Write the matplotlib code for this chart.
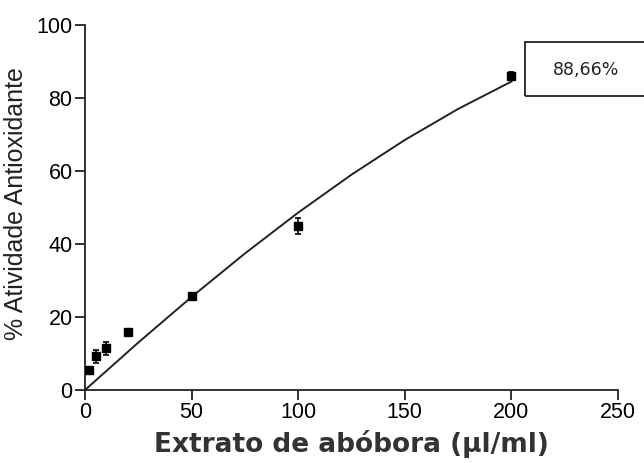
import numpy as np
import matplotlib.pyplot as plt
from matplotlib.patches import Rectangle

# Dados medidos (extrato de abóbora, µl/ml)
conc = [2, 5, 10, 20, 50, 100, 200]
atividade = [5.5, 9.2, 11.4, 16.0, 25.8, 45.0, 86.0]
erro = [0.6, 1.8, 1.8, 0.6, 0.8, 2.2, 1.0]

# Curva ajustada
curva_x = [0, 25, 50, 75, 100, 125, 150, 175, 200]
curva_y = [0, 13.0, 25.5, 37.4, 48.6, 59.0, 68.5, 77.0, 84.5]

xticks = [0, 50, 100, 150, 200, 250]
yticks = [0, 20, 40, 60, 80, 100]

fig = plt.figure(figsize=(6.44, 4.63), dpi=100)
ax = fig.add_axes([0.132, 0.1577, 0.8276, 0.7883])

ax.plot(curva_x, curva_y, color='#222222', lw=1.4, zorder=2)
ax.errorbar(conc, atividade, yerr=erro, fmt='s', color='black', ms=5.5,
            elinewidth=1.2, capsize=2.5, capthick=1.2, zorder=3)

ax.set_xlim(0, 250)
ax.set_ylim(0, 100)
ax.set_xticks(xticks)
ax.set_yticks(yticks)
for s in ['top', 'right']:
    ax.spines[s].set_visible(False)
for s in ['left', 'bottom']:
    ax.spines[s].set_linewidth(1.3)
    ax.spines[s].set_color('#222222')
ax.tick_params(direction='out', length=7, width=1.3, color='#222222',
               labelsize=15.5, pad=2)
for lab in ax.get_xticklabels() + ax.get_yticklabels():
    lab.set_family('Liberation Sans')

ax.set_ylabel('% Atividade Antioxidante', family='Liberation Sans',
              fontsize=18, color='#222222')
ax.yaxis.set_label_coords(-0.107, 0.51)
ax.set_xlabel('Extrato de abóbora (µl/ml)', family='DejaVu Sans',
              fontweight='bold', fontsize=19, color='#333333')
ax.xaxis.set_label_coords(0.5, -0.11)

# caixa com o valor em 200 µl/ml
fig.patches.append(Rectangle((525 / 644, 1 - 96 / 463), 0.25, 54 / 463,
                             transform=fig.transFigure, fill=False,
                             edgecolor='#222222', lw=1.3))
fig.text(586 / 644, 1 - 70 / 463, '88,66%', ha='center', va='center',
         fontsize=12.5, family='DejaVu Sans', color='#222222')

fig.savefig('out.png', dpi=100)
